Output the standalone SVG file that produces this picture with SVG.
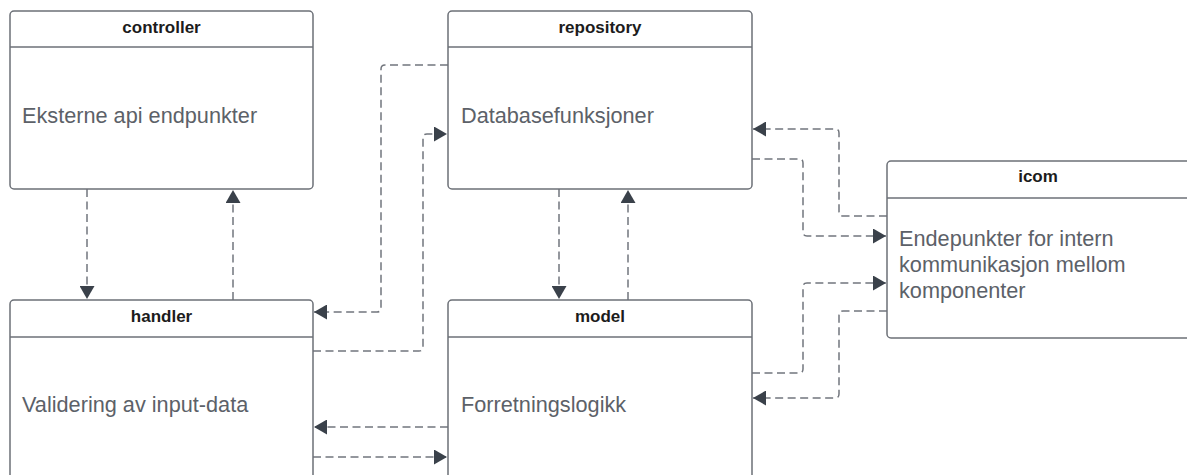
<svg xmlns="http://www.w3.org/2000/svg" width="1187" height="475" viewBox="0 0 1187 475">
  <style>
    .box { fill: #ffffff; stroke: #6c7077; stroke-width: 1.5; }
    .sep { stroke: #6c7077; stroke-width: 1.5; }
    .title { font-family: "Liberation Sans", Arial, sans-serif; font-size: 17px; font-weight: bold; fill: #1c1c1c; text-anchor: middle; }
    .body { font-family: "Liberation Sans", Arial, sans-serif; font-size: 21.7px; fill: #5c6168; }
    .link { fill: none; stroke: #72767d; stroke-width: 1.5; stroke-dasharray: 8 4.5; stroke-linejoin: round; }
  </style>
  <defs>
    <marker id="arrow" viewBox="0 0 13 15" refX="13" refY="7.5" markerWidth="13" markerHeight="15" markerUnits="userSpaceOnUse" orient="auto">
      <path d="M0,0 L13,7.5 L0,15 Z" fill="#3a414a"/>
    </marker>
  </defs>

  <rect width="1187" height="475" fill="#ffffff"/>

  <!-- connectors -->
  <g id="connectors">
    <!-- controller <-> handler -->
    <path class="link" d="M87,189 V299" marker-end="url(#arrow)"/>
    <path class="link" d="M233,300 V190" marker-end="url(#arrow)"/>
    <!-- repository <-> handler -->
    <path class="link" d="M448,65 H385 Q381,65 381,69 V308 Q381,312 377,312 H314" marker-end="url(#arrow)"/>
    <path class="link" d="M313,351 H419 Q423,351 423,347 V138 Q423,134 427,134 H447" marker-end="url(#arrow)"/>
    <!-- model <-> handler -->
    <path class="link" d="M448,427 H314" marker-end="url(#arrow)"/>
    <path class="link" d="M313,457 H447" marker-end="url(#arrow)"/>
    <!-- repository <-> model -->
    <path class="link" d="M559,189 V299" marker-end="url(#arrow)"/>
    <path class="link" d="M628,300 V190" marker-end="url(#arrow)"/>
    <!-- icom <-> repository -->
    <path class="link" d="M887,216 H843 Q839,216 839,212 V133 Q839,129 835,129 H753" marker-end="url(#arrow)"/>
    <path class="link" d="M752,159 H799 Q803,159 803,163 V232 Q803,236 807,236 H886" marker-end="url(#arrow)"/>
    <!-- icom <-> model -->
    <path class="link" d="M752,373 H799 Q803,373 803,369 V287 Q803,283 807,283 H886" marker-end="url(#arrow)"/>
    <path class="link" d="M887,311 H843 Q839,311 839,315 V394 Q839,398 835,398 H753" marker-end="url(#arrow)"/>
  </g>

  <!-- controller -->
  <g id="controller">
    <rect class="box" x="10" y="11" width="303" height="178" rx="4"/>
    <line class="sep" x1="10" y1="47" x2="313" y2="47"/>
    <text class="title" x="161.5" y="33">controller</text>
    <text class="body" x="22" y="123">Eksterne api endpunkter</text>
  </g>

  <!-- repository -->
  <g id="repository">
    <rect class="box" x="448" y="11" width="304" height="178" rx="4"/>
    <line class="sep" x1="448" y1="47" x2="752" y2="47"/>
    <text class="title" x="600" y="33">repository</text>
    <text class="body" x="461" y="123">Databasefunksjoner</text>
  </g>

  <!-- icom -->
  <g id="icom">
    <rect class="box" x="887" y="161" width="304" height="177" rx="4"/>
    <line class="sep" x1="887" y1="198" x2="1191" y2="198"/>
    <text class="title" x="1038" y="182">icom</text>
    <text class="body" x="899" y="246">Endepunkter for intern</text>
    <text class="body" x="899" y="272">kommunikasjon mellom</text>
    <text class="body" x="899" y="298">komponenter</text>
  </g>

  <!-- handler -->
  <g id="handler">
    <rect class="box" x="10" y="300" width="303" height="190" rx="4"/>
    <line class="sep" x1="10" y1="337" x2="313" y2="337"/>
    <text class="title" x="161.5" y="322">handler</text>
    <text class="body" x="22" y="412">Validering av input-data</text>
  </g>

  <!-- model -->
  <g id="model">
    <rect class="box" x="448" y="300" width="304" height="190" rx="4"/>
    <line class="sep" x1="448" y1="337" x2="752" y2="337"/>
    <text class="title" x="600" y="322">model</text>
    <text class="body" x="461" y="412">Forretningslogikk</text>
  </g>
</svg>
